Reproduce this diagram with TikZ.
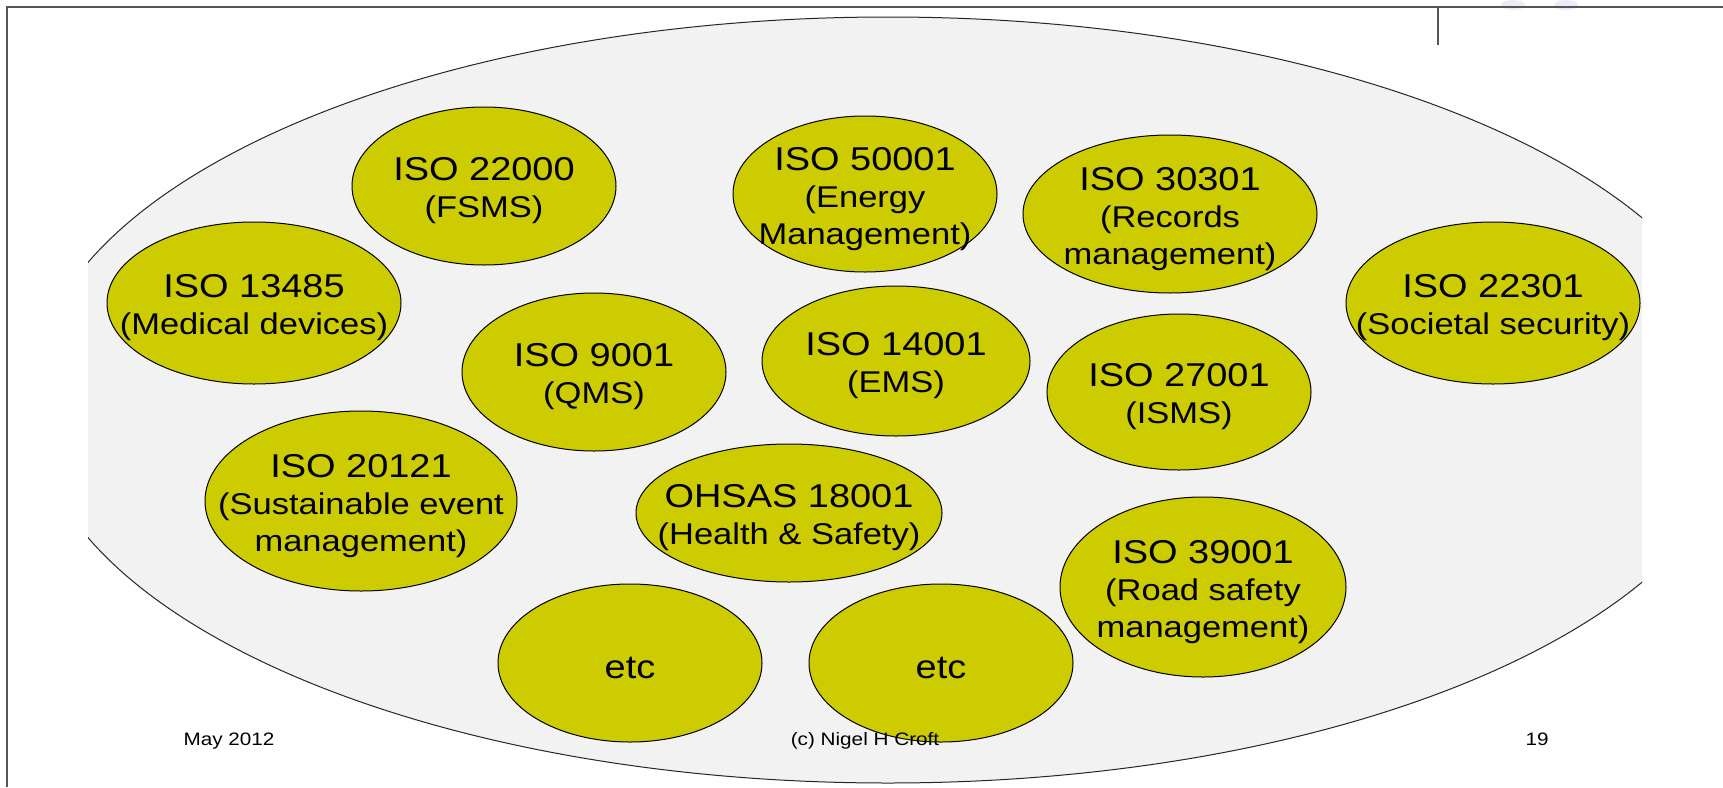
\documentclass[tikz,border=0pt]{standalone}
\usepackage{fontspec}
\setmainfont{Liberation Sans}
\usepackage{graphicx}
\usetikzlibrary{shapes.geometric}
\definecolor{isoyellow}{RGB}{204,204,0}
\definecolor{bigfill}{RGB}{242,242,242}
\definecolor{framegray}{RGB}{85,85,85}
\definecolor{lavender}{RGB}{236,236,248}
\newcommand{\Lone}[1]{\scalebox{1.15}[1]{#1}}
\newcommand{\Ltwo}[1]{\scalebox{1.15}[1]{\fontsize{15}{18.5}\selectfont #1}}
\newcommand{\isoell}[6]{%
  \node[iso, minimum width=#4pt, minimum height=#5pt] (#1) at (#2,#3) {};
  \node[isotext] (#1t) at (#1) {#6};}
\begin{document}
\begin{tikzpicture}[x=0.5pt,y=-0.5pt,
  iso/.style={ellipse, draw=black, line width=0.5pt, fill=isoyellow, inner sep=0pt, outer sep=0pt},
  isotext/.style={align=center, inner sep=0pt, yshift=-2.5pt, font=\fontsize{16.5}{18.5}\selectfont},
  footer/.style={inner sep=0pt, anchor=base, font=\fontsize{9}{10}\selectfont}]
\useasboundingbox (0,0) rectangle (1723,787);
\fill[white] (0,0) rectangle (1723,787);

% frame
\coordinate (fb) at (7,787);
\coordinate (fc) at (7,7);
\coordinate (fr) at (1723,7);
\coordinate (tk1) at (1438,7);
\coordinate (tk2) at (1438,45);
\fill[lavender] (1513,5) ellipse [x radius=6pt, y radius=2.5pt];
\fill[lavender] (1566,5) ellipse [x radius=6pt, y radius=2.5pt];
\draw[framegray, line width=1pt] (fb) -- (fc) -- (fr);
\draw[framegray, line width=1pt] (tk1) -- (tk2);

% big background ellipse
\begin{scope}
  \clip (88,0) rectangle (1642,787);
  \draw[fill=bigfill, draw=black!85, line width=0.5pt] (888,400) ellipse [x radius=428.5pt, y radius=191.5pt];
\end{scope}

% ISO ellipses (name, cx, cy, rx, ry in px)
\isoell{a}{484}{186}{132}{79}{\Lone{ISO 22000}\\\Ltwo{(FSMS)}}
\isoell{b}{865}{194}{132}{78}{\Lone{ISO 50001}\\\Ltwo{(Energy}\\\Ltwo{Management)}}
\isoell{c}{1170}{214}{147}{79}{\Lone{ISO 30301}\\\Ltwo{(Records}\\\Ltwo{management)}}
\isoell{d}{254}{303}{147}{81}{\Lone{ISO 13485}\\\Ltwo{(Medical devices)}}
\isoell{e}{1493}{303}{147}{81}{\Lone{ISO 22301}\\\Ltwo{(Societal security)}}
\isoell{f}{594}{372}{132}{79}{\Lone{ISO 9001}\\\Ltwo{(QMS)}}
\isoell{g}{896}{361}{134}{75}{\Lone{ISO 14001}\\\Ltwo{(EMS)}}
\isoell{h}{1179}{392}{132}{78}{\Lone{ISO 27001}\\\Ltwo{(ISMS)}}
\isoell{i}{361}{501}{156}{90}{\Lone{ISO 20121}\\\Ltwo{(Sustainable event}\\\Ltwo{management)}}
\isoell{j}{789}{513}{153}{69}{\Lone{OHSAS 18001}\\\Ltwo{(Health \& Safety)}}
\isoell{k}{1203}{587}{143}{90}{\Lone{ISO 39001}\\\Ltwo{(Road safety}\\\Ltwo{management)}}
\isoell{l}{630}{663}{132}{79}{\Lone{etc}}
\isoell{m}{941}{663}{132}{79}{\Lone{etc}}

% footer
\node[footer] (date) at (229,745) {\Lone{May 2012}};
\node[footer] (copy) at (865,745) {\Lone{(c) Nigel H Croft}};
\node[footer] (page) at (1537,745) {\Lone{19}};
\end{tikzpicture}
\end{document}
